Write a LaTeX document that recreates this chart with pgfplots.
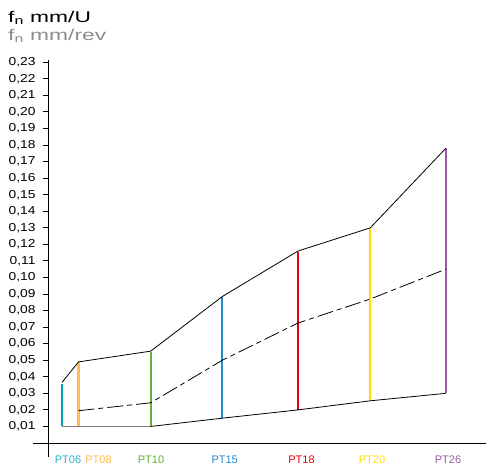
\documentclass[border=0pt]{standalone}
\usepackage{pgfplots}
\pgfplotsset{compat=1.18}
\usepackage{fontspec}
\setmainfont{Liberation Sans}
\newfontfamily\widefont[FakeStretch=1.2]{Liberation Sans}
\newfontfamily\titlefont[FakeStretch=1.47]{Liberation Sans}
\definecolor{c06}{RGB}{0,160,175}
\definecolor{c06l}{RGB}{40,180,200}
\definecolor{c08}{RGB}{252,190,80}
\definecolor{c10}{RGB}{95,180,55}
\definecolor{c15}{RGB}{30,140,205}
\definecolor{c18}{RGB}{228,0,18}
\definecolor{c20}{RGB}{255,220,0}
\definecolor{c26}{RGB}{155,90,165}
\definecolor{tgray}{RGB}{140,140,140}
\definecolor{lgray}{RGB}{125,125,125}
\begin{document}
\begin{tikzpicture}
\begin{axis}[
  x=1pt, y=1655pt,
  xmin=0, xmax=437,
  ymin=-0.0085, ymax=0.2315,
  axis x line=middle, axis y line=left,
  x axis line style={-, line width=1pt},
  y axis line style={-, line width=1pt},
  clip=false,
  ytick={0.01,0.02,...,0.231},
  ytick align=outside,
  major tick length=6pt,
  y tick style={line width=1pt, black},
  yticklabel style={font=\widefont\fontsize{11.5}{12}\selectfont, xshift=-4pt},
  /pgf/number format/.cd, fixed, fixed zerofill, precision=2, use comma, assume math mode=true,
  /pgfplots/.cd,
  xtick={19,49.5,102,175.7,252.5,323,399},
  xticklabels={\textcolor{c06l}{PT06},\textcolor{c08}{PT08},\textcolor{c10}{PT10},\textcolor{c15}{PT15},\textcolor{c18}{PT18},\textcolor{c20}{PT20},\textcolor{c26}{PT26}},
  x tick style={draw=none},
  xticklabel style={font=\fontsize{11}{12}\selectfont, yshift=-6pt},
]
% vertical coloured ranges
\addplot[c06, line width=2.2pt] coordinates {(13,0.01)(13,0.0358)};
\addplot[c08, line width=2.2pt] coordinates {(29.5,0.01)(29.5,0.049)};
\addplot[c10, line width=2.2pt] coordinates {(101.7,0.01)(101.7,0.055)};
\addplot[c15, line width=2.2pt] coordinates {(173.3,0.015)(173.3,0.088)};
\addplot[c18, line width=2.2pt] coordinates {(249,0.02)(249,0.1155)};
\addplot[c20, line width=2.2pt] coordinates {(321.3,0.0255)(321.3,0.13)};
\addplot[c26, line width=2.2pt] coordinates {(396.7,0.03)(396.7,0.178)};
% upper line
\addplot[black, line width=0.8pt] coordinates {(13,0.0366)(29.5,0.049)(101.7,0.0555)(173.3,0.0885)(249,0.116)(321.3,0.13)(396.7,0.178)};
% middle line
\addplot[black, line width=0.8pt, dash pattern=on 16pt off 4pt on 5pt off 4pt] coordinates {(29.5,0.0195)(101.7,0.0243)(173.3,0.05)(249,0.0725)(321.3,0.087)(396.7,0.105)};
% lower line
\addplot[lgray, line width=1.5pt] coordinates {(13,0.01)(101.7,0.01)};
\addplot[black, line width=0.8pt] coordinates {(101.7,0.01)(173.3,0.015)(249,0.02)(321.3,0.0255)(396.7,0.03)};
\draw[line width=1pt] (axis cs:-16,0) -- (axis cs:0,0);
\node[anchor=base west, inner sep=0pt, font=\titlefont\fontsize{15.5}{16}\selectfont] at (axis cs:-41,0.2542) {f\textsubscript{n} mm/U};
\node[anchor=base west, inner sep=0pt, text=tgray, font=\titlefont\fontsize{15.5}{16}\selectfont] at (axis cs:-41,0.2431) {f\textsubscript{n} mm/rev};
\coordinate (bl) at (axis cs:-49,-0.01752);
\coordinate (tr) at (axis cs:437,0.26767);
\end{axis}
\pgfresetboundingbox
\path[use as bounding box] (bl) rectangle (tr);
\end{tikzpicture}
\end{document}
